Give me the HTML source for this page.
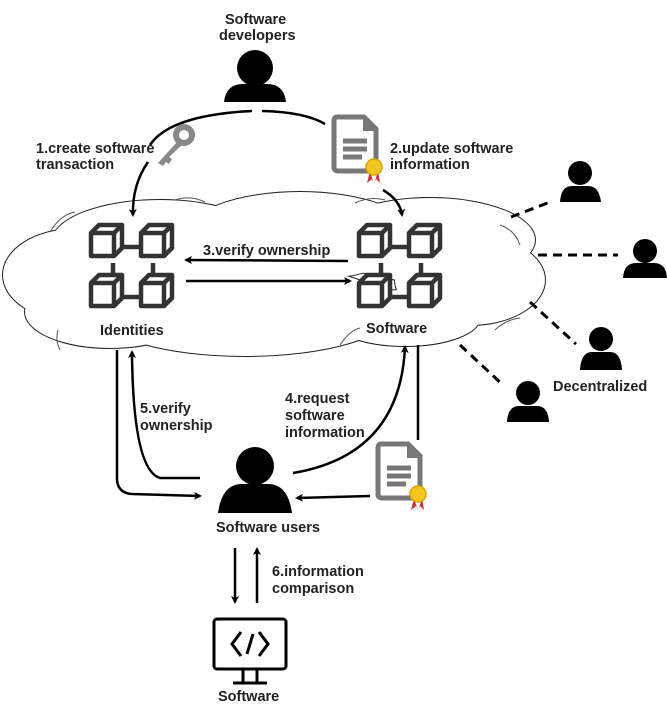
<!DOCTYPE html>
<html><head><meta charset="utf-8"><style>
body{margin:0;background:#fff}
svg text{font-family:"Liberation Sans",sans-serif;font-weight:bold;font-size:14.5px;fill:#222}
</style></head><body>
<svg width="667" height="709" viewBox="0 0 667 709" xmlns="http://www.w3.org/2000/svg">
<defs>
<marker id="ah" markerWidth="8" markerHeight="8" refX="6" refY="4" orient="auto" markerUnits="userSpaceOnUse">
<path d="M0,0 L8,4 L0,8 L2,4 z" fill="#000"/></marker>
<g id="cube"><path d="M0,8 L8,0 L31,0 L31,23 L23,31 L0,31 Z" fill="#fff" stroke="#333" stroke-width="4.5" stroke-linejoin="round"/><path d="M0,8 L23,8 L23,31 M23,8 L31,0" fill="none" stroke="#333" stroke-width="4.5"/></g>
<g id="chain">
<path d="M30,22 H52 M22,38 V58 M62,38 V58 M30,72 H52" stroke="#333" stroke-width="4.5"/>
<use href="#cube" x="0" y="0"/><use href="#cube" x="50" y="0"/><use href="#cube" x="0" y="50"/><use href="#cube" x="50" y="50"/>
</g>
<g id="doc"><path d="M3,0 H30 L42,12 V50 Q42,54 38,54 H4 Q0,54 0,50 V4 Q0,0 3,0Z" fill="none" stroke="#777" stroke-width="5"/><path d="M29,0 V14 H42" fill="#777"/><path d="M9,24 H33 M9,32 H33 M9,40 H28" stroke="#777" stroke-width="5"/>
<path d="M36,54 L33,66 L38,62 L40,67 Z M44,54 L46,66 L42,62 L40,67Z" fill="#c33"/><circle cx="40" cy="50" r="8" fill="#f3c51f" stroke="#d9a400" stroke-width="1.5"/></g>
</defs>
<!-- cloud -->
<g stroke="#222" stroke-width="2" fill="#222">
<ellipse cx="75" cy="275" rx="72" ry="46"/><ellipse cx="160" cy="242" rx="108" ry="42"/><ellipse cx="300" cy="236" rx="115" ry="44"/><ellipse cx="430" cy="240" rx="105" ry="42"/><ellipse cx="470" cy="280" rx="75" ry="45"/><ellipse cx="245" cy="310" rx="150" ry="46"/><ellipse cx="405" cy="318" rx="75" ry="28"/><ellipse cx="110" cy="312" rx="85" ry="36"/>
</g>
<g fill="#fff">
<ellipse cx="75" cy="275" rx="72" ry="46"/><ellipse cx="160" cy="242" rx="108" ry="42"/><ellipse cx="300" cy="236" rx="115" ry="44"/><ellipse cx="430" cy="240" rx="105" ry="42"/><ellipse cx="470" cy="280" rx="75" ry="45"/><ellipse cx="245" cy="310" rx="150" ry="46"/><ellipse cx="405" cy="318" rx="75" ry="28"/><ellipse cx="110" cy="312" rx="85" ry="36"/>
</g>
<g fill="none" stroke="#555" stroke-width="1">
<path d="M50,232 Q60,215 75,212"/><path d="M175,200 Q190,195 205,202"/><path d="M355,203 Q370,196 385,200"/><path d="M500,225 Q515,230 520,245"/><path d="M495,330 Q505,320 520,318"/><path d="M60,350 Q55,340 58,330"/><path d="M340,345 Q350,330 360,328"/>
</g>
<use href="#chain" x="91" y="225"/>
<use href="#chain" x="359" y="225"/>
<text x="100" y="335">Identities</text>
<text x="366" y="333">Software</text>
<text x="203" y="255">3.verify ownership</text>
<g fill="none" stroke="#000" stroke-width="2.5">
<path d="M348,261 L186,260" marker-end="url(#ah)"/>
<path d="M186,281 L350,281" marker-end="url(#ah)"/>
<path d="M252,111 Q170,115 150,145" /><path d="M148,162 Q132,185 133,215" marker-end="url(#ah)"/>
<path d="M262,111 Q305,112 325,124"/><path d="M383,190 Q400,200 402,215" marker-end="url(#ah)"/>
<path d="M117,350 V480 Q118,493 132,494 L200,496" marker-end="url(#ah)"/>
<path d="M200,478 L160,478 Q133,470 132,352" marker-end="url(#ah)"/>
<path d="M293,473 Q400,455 405,347" marker-end="url(#ah)"/>
<path d="M418,345 V440"/>
<path d="M370,496 L297,498" marker-end="url(#ah)"/>
<path d="M235,548 V602" marker-end="url(#ah)"/>
<path d="M257,603 V549" marker-end="url(#ah)"/>
</g>
<g fill="#888"><circle cx="184" cy="135" r="11"/><circle cx="184" cy="135" r="5" fill="#fff"/><path d="M178,141 L158,163 L163,166 L166,162 L169,164 L172,159 L169,157 L183,144 Z"/></g>
<use href="#doc" x="334" y="117"/>
<use href="#doc" x="378" y="444"/>
<g fill="#000">
<circle cx="255" cy="68" r="18"/><path d="M224,102 Q226,84 243,84 H267 Q284,84 286,102 Z"/>
<circle cx="255" cy="466" r="19"/><path d="M218,513 Q222,484 242,484 H268 Q288,484 292,513 Z"/>
<circle cx="580" cy="173" r="12"/><path d="M560,202 Q561,186 572,186 H588 Q599,186 601,202Z"/>
<circle cx="645" cy="251" r="12"/><path d="M623,278 Q624,263 636,263 H654 Q666,263 667,278Z"/>
<circle cx="601" cy="339" r="12"/><path d="M580,370 Q581,352 592,352 H610 Q621,352 622,370Z"/>
<circle cx="528" cy="393" r="12"/><path d="M507,422 Q508,406 519,406 H537 Q548,406 549,422Z"/>
</g>
<g stroke="#000" stroke-width="3" stroke-dasharray="9,6" fill="none">
<path d="M511,217 L550,202"/><path d="M538,255 L618,255"/><path d="M530,302 L576,344"/><path d="M460,345 L503,385"/>
</g>
<g fill="none" stroke="#000" stroke-width="3">
<rect x="214" y="619" width="72" height="50" rx="3"/>
<path d="M241,632 L232,644 L241,656 M259,632 L268,644 L259,656 M253,634 L247,654"/>
<path d="M243,669 V683 M257,669 V683 M233,683 H267"/>
</g>
<text x="225" y="24">Software</text><text x="219" y="40">developers</text>
<text x="36" y="153">1.create software</text><text x="36" y="169">transaction</text>
<text x="390" y="153">2.update software</text><text x="390" y="169">information</text>
<text x="140" y="413">5.verify</text><text x="140" y="430">ownership</text>
<text x="285" y="403">4.request</text><text x="285" y="420">software</text><text x="285" y="437">information</text>
<text x="216" y="532">Software users</text>
<text x="272" y="576">6.information</text><text x="272" y="593">comparison</text>
<text x="218" y="701">Software</text>
<text x="553" y="391">Decentralized</text>
</svg>
</body></html>
